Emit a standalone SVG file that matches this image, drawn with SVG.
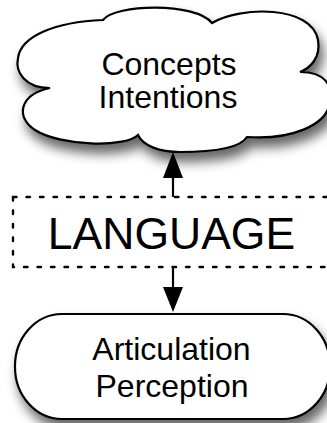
<svg xmlns="http://www.w3.org/2000/svg" width="327" height="423" viewBox="0 0 327 423">
<defs>
<filter id="sh" x="-20%" y="-20%" width="150%" height="160%">
<feGaussianBlur in="SourceAlpha" stdDeviation="6"/>
<feOffset dx="4" dy="9" result="b"/>
<feFlood flood-color="#000" flood-opacity="0.6"/>
<feComposite in2="b" operator="in"/>
<feMerge><feMergeNode/><feMergeNode in="SourceGraphic"/></feMerge>
</filter>
</defs>
<style>
.shape{fill:#fff;stroke:#000;stroke-width:2.2}
.lbl{font-family:"Liberation Sans",Arial,Helvetica,sans-serif;font-size:32px;fill:#000;text-anchor:middle}
.big{font-size:44.5px}
.dash{fill:none;stroke:#000;stroke-width:2.4;stroke-dasharray:3.5 10;stroke-linecap:round}
.conn{stroke:#000;stroke-width:2.2;fill:none}
.head{fill:#000}
</style>
<g id="concepts">
<path class="shape" filter="url(#sh)" d="M103,20 C115,4 195,2 212,23 C240,6 312,5 318,40 C321,58 310,68 300,72 C325,72 333,85 330,102 C327,126 290,140 247,137 C240,148 215,152 180,152 C160,152 143,146 138,135 C125,148 60,146 35,130 C16,118 18,95 50,88 C25,88 15,72 18,58 C21,36 55,22 103,20 Z"/>
<text class="lbl" x="169" y="75">Concepts</text>
<text class="lbl" x="168" y="108">Intentions</text>
</g>
<g id="language">
<rect class="dash" x="13" y="197" width="330" height="70"/>
<text class="lbl big" x="171.5" y="249">LANGUAGE</text>
</g>
<g id="articulation">
<rect class="shape" filter="url(#sh)" x="15" y="314" width="315" height="105" rx="47" ry="52"/>
<text class="lbl" x="171.5" y="360">Articulation</text>
<text class="lbl" x="172" y="397">Perception</text>
</g>
<g id="connectors">
<line class="conn" x1="173" y1="197" x2="173" y2="177"/>
<path class="head" d="M163,178 L183,178 L173,152 Z"/>
<line class="conn" x1="173" y1="267" x2="173" y2="288"/>
<path class="head" d="M163,287 L183,287 L173,312 Z"/>
</g>
</svg>
